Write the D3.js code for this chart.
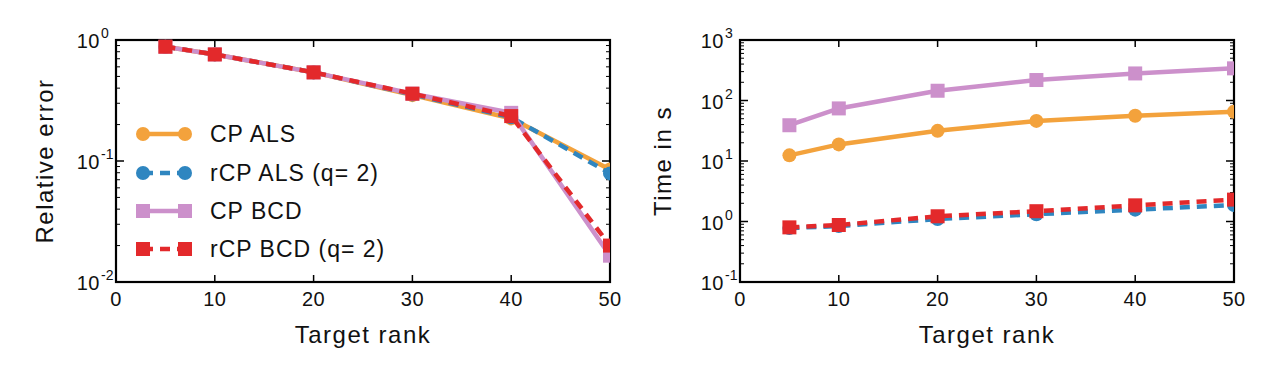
<!DOCTYPE html>
<html>
<head>
<meta charset="utf-8">
<script src="https://cdn.jsdelivr.net/npm/d3@7"></script>
<style>
  html, body { margin: 0; padding: 0; background: #fff; }
  svg text { font-family: "Liberation Sans", Arial, sans-serif; fill: #111; }
</style>
</head>
<body>
<svg id="chart" width="1275" height="375"></svg>
<script>
// ---- data ----
const ranks = [5, 10, 20, 30, 40, 50];
const seriesNames = ["CP ALS", "rCP ALS (q= 2)", "CP BCD", "rCP BCD (q= 2)"];
const errCPALS  = [0.88, 0.76, 0.54, 0.35, 0.225, 0.085];
const errRCPALS = [0.88, 0.76, 0.54, 0.355, 0.23, 0.079];
const errCPBCD  = [0.88, 0.76, 0.54, 0.36, 0.25, 0.0165];
const errRCPBCD = [0.88, 0.76, 0.54, 0.36, 0.235, 0.020];
const timeCPALS  = [12.4, 18.8, 31.5, 46, 56, 65];
const timeRCPALS = [0.78, 0.84, 1.1, 1.32, 1.57, 1.87];
const timeCPBCD  = [39, 74, 145, 218, 280, 340];
const timeRCPBCD = [0.80, 0.875, 1.22, 1.48, 1.85, 2.3];
const xTicks = [0, 10, 20, 30, 40, 50];
const errTickExps = [-2, -1, 0];
const timeTickExps = [-1, 0, 1, 2, 3];

const styles = [
  {color: "#f3a23c", dash: null, marker: "circle"},
  {color: "#2f86c0", dash: "10,7", marker: "circle"},
  {color: "#cc90cb", dash: null, marker: "square"},
  {color: "#e3292b", dash: "10,7", marker: "square"}
];

const svg = d3.select("#chart");

function drawPanel(opts) {
  const {left, right, top, bottom, domainY, exps, ylabel, ylabelX, data, legend} = opts;
  const x = d3.scaleLinear().domain([0, 50]).range([left, right]);
  const y = d3.scaleLog().domain(domainY).range([bottom, top]);
  const g = svg.append("g");

  const clipId = "clip" + Math.round(left);
  g.append("clipPath").attr("id", clipId).append("rect")
    .attr("x", left).attr("y", top - 8).attr("width", right - left).attr("height", bottom - top + 16);

  g.append("rect").attr("x", left).attr("y", top).attr("width", right - left).attr("height", bottom - top)
    .attr("fill", "none").attr("stroke", "#000").attr("stroke-width", 2.2);

  xTicks.slice(1, -1).forEach(t => {
    g.append("line").attr("x1", x(t)).attr("x2", x(t)).attr("y1", bottom).attr("y2", bottom - 7)
      .attr("stroke", "#000").attr("stroke-width", 1.5);
    g.append("line").attr("x1", x(t)).attr("x2", x(t)).attr("y1", top).attr("y2", top + 7)
      .attr("stroke", "#000").attr("stroke-width", 1.5);
  });
  xTicks.forEach(t => {
    g.append("text").attr("x", x(t)).attr("y", bottom + 24).attr("text-anchor", "middle")
      .attr("font-size", 20).attr("letter-spacing", 0.5).text(t);
  });

  const minE = exps[0], maxE = exps[exps.length - 1];
  for (let e = minE; e <= maxE; e++) {
    const v = Math.pow(10, e);
    if (e > minE && e < maxE) {
      [[left, left + 8], [right, right - 8]].forEach(([a, b]) => {
        g.append("line").attr("x1", a).attr("x2", b).attr("y1", y(v)).attr("y2", y(v))
          .attr("stroke", "#000").attr("stroke-width", 1.5);
      });
    }
    if (e < maxE) {
      for (let m = 2; m <= 9; m++) {
        const vv = m * v;
        [[left, left + 4], [right, right - 4]].forEach(([a, b]) => {
          g.append("line").attr("x1", a).attr("x2", b).attr("y1", y(vv)).attr("y2", y(vv))
            .attr("stroke", "#000").attr("stroke-width", 1);
        });
      }
    }
    g.append("text").attr("x", left - 16).attr("y", y(v) + 8).attr("text-anchor", "end")
      .attr("font-size", 20).attr("letter-spacing", 0.5).text("10");
    g.append("text").attr("x", left - 15).attr("y", y(v) - 2).attr("text-anchor", "start")
      .attr("font-size", 14).text(e);
  }

  g.append("text").attr("x", (left + right) / 2).attr("y", bottom + 61).attr("text-anchor", "middle")
    .attr("font-size", 24).attr("letter-spacing", 1.5).text("Target rank");
  g.append("text").attr("transform", `translate(${ylabelX},${(top + bottom) / 2}) rotate(-90)`)
    .attr("text-anchor", "middle").attr("font-size", 24).attr("letter-spacing", 1.5).text(ylabel);

  const line = d3.line().x((d, i) => x(ranks[i])).y(d => y(d));
  const plot = g.append("g").attr("clip-path", `url(#${clipId})`);
  data.forEach((vals, si) => {
    const st = styles[si];
    plot.append("path").attr("d", line(vals)).attr("fill", "none")
      .attr("stroke", st.color).attr("stroke-width", 4.5)
      .attr("stroke-dasharray", st.dash);
    vals.forEach((v, i) => {
      if (st.marker === "circle") {
        plot.append("circle").attr("cx", x(ranks[i])).attr("cy", y(v)).attr("r", 7).attr("fill", st.color);
      } else {
        plot.append("rect").attr("x", x(ranks[i]) - 7).attr("y", y(v) - 7)
          .attr("width", 14).attr("height", 14).attr("fill", st.color);
      }
    });
  });

  if (legend) {
    const rows = [134, 173, 211, 249];
    seriesNames.forEach((name, si) => {
      const st = styles[si];
      const ly = rows[si];
      const x1 = 143, x2 = 185;
      g.append("line").attr("x1", x1).attr("x2", x2).attr("y1", ly).attr("y2", ly)
        .attr("stroke", st.color).attr("stroke-width", 4.5).attr("stroke-dasharray", st.dash);
      [x1, x2].forEach(mx => {
        if (st.marker === "circle") g.append("circle").attr("cx", mx).attr("cy", ly).attr("r", 7).attr("fill", st.color);
        else g.append("rect").attr("x", mx - 7).attr("y", ly - 7).attr("width", 14).attr("height", 14).attr("fill", st.color);
      });
      g.append("text").attr("x", 210).attr("y", ly + 8).attr("font-size", 23).attr("letter-spacing", 1)
        .text(name);
    });
  }
}

drawPanel({left: 116, right: 610, top: 40, bottom: 282, domainY: [0.01, 1], exps: errTickExps,
  ylabel: "Relative error", ylabelX: 53, data: [errCPALS, errRCPALS, errCPBCD, errRCPBCD], legend: true});
drawPanel({left: 740, right: 1234, top: 40, bottom: 282, domainY: [0.1, 1000], exps: timeTickExps,
  ylabel: "Time in s", ylabelX: 671, data: [timeCPALS, timeRCPALS, timeCPBCD, timeRCPBCD], legend: false});
</script>
</body>
</html>
